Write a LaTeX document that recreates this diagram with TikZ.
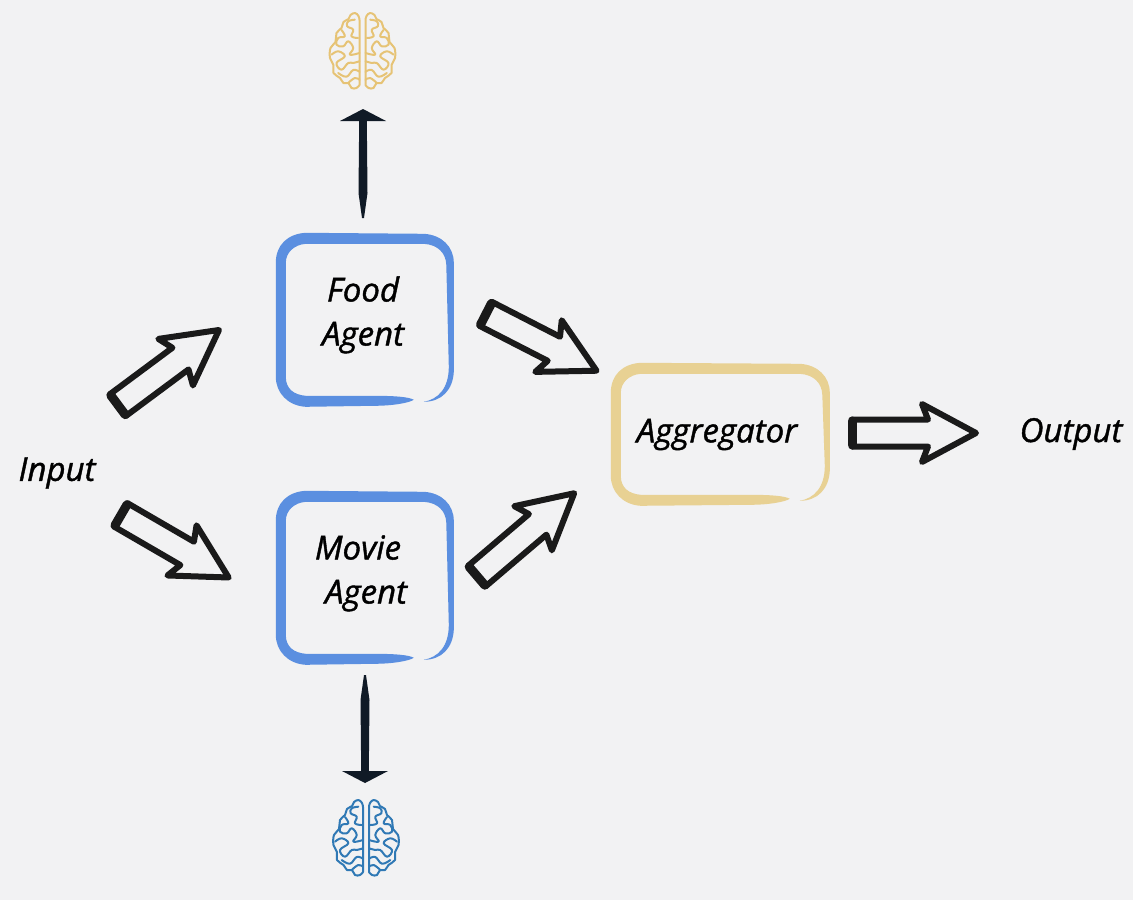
\documentclass[tikz,border=0pt]{standalone}
\usepackage{fontspec}
\setmainfont{Open Sans}[ItalicFeatures={FakeBold=1.2}]
\usetikzlibrary{calc}
\definecolor{bgc}{HTML}{F2F2F3}
\definecolor{agentblue}{HTML}{5B8FE0}
\definecolor{aggold}{HTML}{E8D193}
\definecolor{braingold}{HTML}{E6C375}
\definecolor{brainblue}{HTML}{3079B5}
\definecolor{inkdark}{HTML}{101A26}
\definecolor{inkblack}{HTML}{1A1A1A}
\tikzset{
  label text/.style={font=\fontsize{33}{44}\selectfont\itshape, text=black, align=center, inner sep=0pt},
  hollow/.style={draw=inkblack, line width=6pt, line join=round, fill=bgc},
  tailbar/.style={draw=inkblack, line width=9pt, line cap=round},
  brainline/.style={line width=2pt, line cap=round, line join=round},
}
\newcommand\lineup[2]{\raisebox{2.5pt}[20pt][8pt]{\hspace*{#1}#2}}
% hollow block arrow from #1 (tail centre) to #2 (tip)
\newcommand\harrow[2]{%
  \draw[hollow] ($(#2)!5pt!(#1)$)
    -- ($(#2)!59pt!(#1)!29pt!90:(#1)$)
    -- ($(#2)!53pt!(#1)!13.5pt!90:(#1)$)
    -- ($(#1)!13.5pt!-90:(#2)$)
    -- ($(#1)!13.5pt!90:(#2)$)
    -- ($(#2)!53pt!(#1)!13.5pt!-90:(#1)$)
    -- ($(#2)!59pt!(#1)!29pt!-90:(#1)$)
    -- cycle;
  \draw[tailbar] ($(#1)!12pt!-90:(#2)$) -- ($(#1)!12pt!90:(#2)$);
}
% dark brush arrow from #1 to tip #2
\newcommand\darrow[2]{%
  \fill[inkdark] ($(#1)!1pt!90:(#2)$)
    -- ($(#1)!25pt!(#2)!4.5pt!90:(#2)$)
    -- ($(#2)!12pt!(#1)!3.8pt!-90:(#1)$)
    -- ($(#2)!12pt!(#1)!23pt!-90:(#1)$)
    -- (#2)
    -- ($(#2)!12pt!(#1)!23pt!90:(#1)$)
    -- ($(#2)!12pt!(#1)!3.8pt!90:(#1)$)
    -- ($(#1)!25pt!(#2)!4.5pt!-90:(#2)$)
    -- ($(#1)!1pt!-90:(#2)$) -- cycle;
}
% brush box of width #3, height #4 at node #1, colour #2
\newcommand\brushbox[4]{%
  \begin{scope}[shift={(#1.north west)}]
    \fill[#2] (#3-40,#4-7)
      .. controls (#3-45,#4-4) and (#3-60,#4-1) .. (#3-80,#4-1)
      -- (30,#4)
      .. controls (12,#4-1) and (0,#4-14) .. (0,#4-30)
      -- (0,30)
      .. controls (0,12) and (12,1) .. (30,0)
      -- (#3-30,1)
      .. controls (#3-12,2) and (#3,14) .. (#3,30)
      -- (#3,#4-35)
      .. controls (#3-1,#4-17) and (#3-12,#4-5) .. (#3-30,#4-5)
      .. controls (#3-16,#4-7.5) and (#3-5,#4-18) .. (#3-5,#4-40)
      -- (#3-7.5,32)
      .. controls (#3-8,20) and (#3-16,12) .. (#3-30,11)
      -- (30,11)
      .. controls (18,12) and (10,20) .. (10,30)
      -- (10,#4-30)
      .. controls (10,#4-18) and (18,#4-12) .. (30,#4-11)
      -- (#3-80,#4-11)
      .. controls (#3-60,#4-11) and (#3-45,#4-10) .. (#3-40,#4-7)
      -- cycle;
  \end{scope}
}
% brain drawn around node #1, colour #2
\newcommand\brain[2]{%
  \foreach \side in {1,-1}{
    \begin{scope}[shift={(#1.center)}, xscale=\side, draw=#2, brainline]
      \draw plot[smooth, tension=0.65] coordinates {(-3,-30) (-4,-34) (-7.5,-37) (-12,-35) (-14,-31) (-19,-28) (-21,-22) (-26,-17) (-27,-8) (-32,-2) (-32.5,8) (-29,15) (-29,23) (-22.5,28) (-19,33) (-14,33) (-11,38) (-6,38) (-3,35)} -- cycle;
      \draw plot[smooth, tension=0.7] coordinates {(-7.7,-30.3) (-14.3,-28.7) (-15.3,-23.7) (-9.3,-20.3) (-11,-13.7) (-4.3,-12)};
      \draw plot[smooth, tension=0.7] coordinates {(-21,-20) (-17.7,-13.7) (-24.3,-12) (-26,-5.3) (-19.3,-3.7) (-14.3,-8.7) (-9.3,-2) (-12.7,4.7) (-3,3)};
      \draw plot[smooth, tension=0.7] coordinates {(-31,4.7) (-24.3,1.3) (-17.7,6.3) (-26,13) (-21,19.7) (-14.3,13) (-9.3,13) (-3,11.3)};
      \draw plot[smooth, tension=0.7] coordinates {(-24.3,23) (-16,26.7) (-9.3,20) (-3,21.7)};
      \draw plot[smooth, tension=0.7] coordinates {(-14.3,33) (-7.7,28) (-3,29.7)};
    \end{scope}
  }
}
\begin{document}
\begin{tikzpicture}[x=1pt,y=-1pt]
  \useasboundingbox (0,0) rectangle (1133,900);
  \fill[bgc] (0,0) rectangle (1133,900);

  % nodes
  \node[label text] (input) at (57,473) {Input};
  \node[label text] (output) at (1071,434) {Output};
  \node[label text, minimum width=178pt, minimum height=174pt] (food) at (365,320) {\lineup{-4pt}{Food}\\\lineup{-4pt}{Agent}};
  \node[label text, minimum width=178pt, minimum height=174pt] (movie) at (365,578) {\lineup{-14pt}{Movie}\\\lineup{2pt}{Agent}};
  \node[label text, minimum width=219pt, minimum height=143pt] (agg) at (720.5,434.5) {\hspace*{-7pt}Aggregator};
  \node[minimum width=67pt, minimum height=77pt, inner sep=0pt] (braintop) at (362.5,50) {};
  \node[minimum width=67pt, minimum height=77pt, inner sep=0pt] (brainbot) at (366,837) {};

  % brush frames
  \brushbox{food}{agentblue}{178}{174}
  \brushbox{movie}{agentblue}{178}{174}
  \brushbox{agg}{aggold}{219}{143}

  % brains
  \brain{braintop}{braingold}
  \brain{brainbot}{brainblue}

  % connector ends
  \coordinate (a1) at (118,405); \coordinate (b1) at (223,327);
  \coordinate (a2) at (121,515); \coordinate (b2) at (233,580);
  \coordinate (a3) at (486,314); \coordinate (b3) at (601,373);
  \coordinate (a4) at (477,576); \coordinate (b4) at (578,490);
  \coordinate (a5) at (852,433); \coordinate (b5) at (981,433);
  \coordinate (u1) at (363,218); \coordinate (u2) at (363,109);
  \coordinate (d1) at (365,675); \coordinate (d2) at (365,783);

  \harrow{a1}{b1}
  \harrow{a2}{b2}
  \harrow{a3}{b3}
  \harrow{a4}{b4}
  \harrow{a5}{b5}
  \darrow{u1}{u2}
  \darrow{d1}{d2}
\end{tikzpicture}
\end{document}
